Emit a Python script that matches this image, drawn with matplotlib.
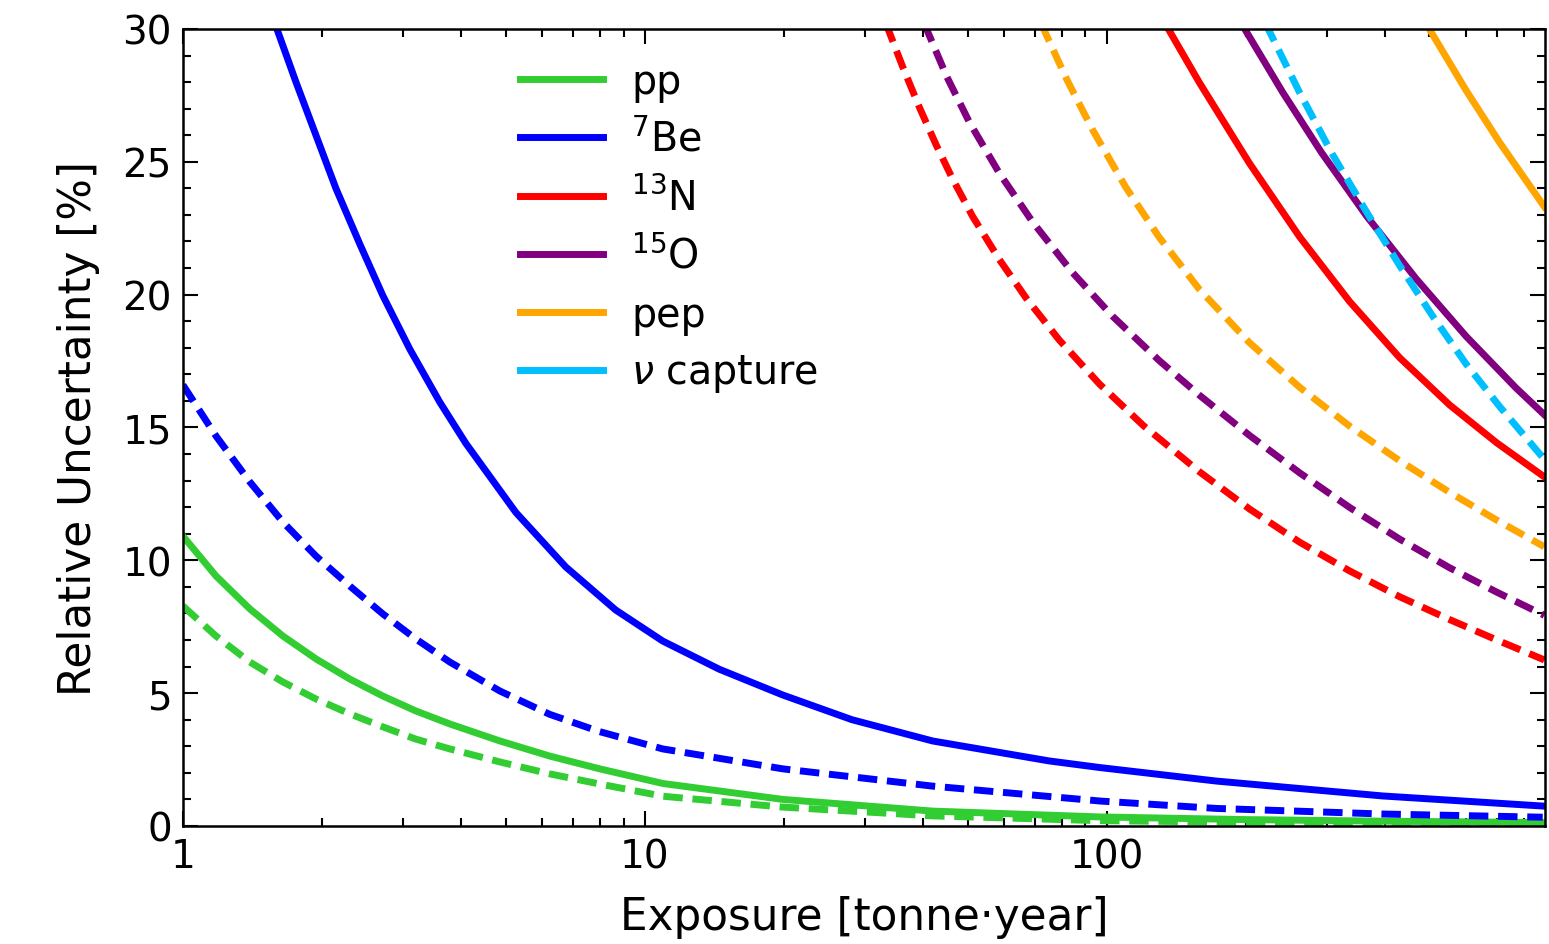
import matplotlib
matplotlib.use("Agg")
import matplotlib.pyplot as plt
from matplotlib.ticker import MultipleLocator, LogLocator, FuncFormatter
from matplotlib.lines import Line2D

# values: exposure [tonne*year] -> relative uncertainty [%]
pp_x = [1, 1.179, 1.396, 1.646, 1.941, 2.298, 2.71, 3.193, 3.784, 4.856, 6.23, 7.99,
        10.94, 19.9, 42, 96.6, 200, 400, 880]
pp_y = [10.91, 9.41, 8.17, 7.15, 6.29, 5.53, 4.89, 4.33, 3.84, 3.2, 2.63, 2.15,
        1.6, 1.0, 0.56, 0.34, 0.24, 0.18, 0.13]
pp_dash_x = [1, 1.179, 1.396, 1.646, 1.941, 2.298, 2.71, 3.193, 3.784, 4.856, 6.23, 7.99,
             10.94, 19.9, 42, 96.6, 200, 400, 880]
pp_dash_y = [8.28, 7.15, 6.17, 5.42, 4.78, 4.22, 3.73, 3.27, 2.9, 2.41, 1.96, 1.58,
             1.12, 0.71, 0.38, 0.2, 0.14, 0.1, 0.08]

be7_x = [1.575, 1.757, 1.941, 2.144, 2.416, 2.71, 3.099, 3.6, 4.099, 5.26, 6.745, 8.65,
         10.94, 14.5, 19.9, 28.1, 42, 75, 96.6, 173, 396, 880]
be7_y = [30.3, 28.0, 26.0, 24.0, 21.9, 19.96, 17.95, 15.95, 14.4, 11.8, 9.75, 8.13,
         6.96, 5.9, 4.93, 4.0, 3.2, 2.45, 2.2, 1.69, 1.13, 0.75]
be7_dash_x = [1, 1.179, 1.396, 1.646, 1.941, 2.298, 2.71, 3.193, 3.784, 4.856, 6.23, 7.99,
              10.94, 19.9, 42, 96.6, 173, 396, 880]
be7_dash_y = [16.6, 14.68, 12.95, 11.44, 10.16, 9.03, 7.98, 7.04, 6.17, 5.08, 4.2, 3.55,
              2.9, 2.15, 1.5, 0.94, 0.66, 0.45, 0.33]

n13_x = [134, 159, 204, 262, 336, 431, 553, 700, 887]
n13_y = [30.2, 27.97, 24.94, 22.17, 19.74, 17.63, 15.85, 14.42, 13.14]
n13_dash_x = [33.3, 36.2, 39.4, 42.8, 46.4, 51.3, 58.6, 67.1, 79.1, 96.6, 120, 159,
              204, 262, 336, 431, 553, 700, 887]
n13_dash_y = [30.2, 28.57, 27.02, 25.62, 24.36, 22.94, 21.32, 19.85, 18.28, 16.63, 15.08,
              13.33, 11.93, 10.68, 9.6, 8.63, 7.77, 7.0, 6.25]

o15_x = [196, 241, 292, 366, 468, 600, 770, 887]
o15_y = [30.2, 27.6, 25.35, 22.95, 20.6, 18.44, 16.49, 15.48]
o15_dash_x = [40.3, 45.1, 50.5, 58.6, 69.2, 84.4, 103, 130, 159, 204, 262, 336, 431,
              553, 700, 887]
o15_dash_y = [30.2, 28.2, 26.48, 24.57, 22.73, 20.83, 19.19, 17.52, 16.21, 14.7, 13.29,
              11.99, 10.8, 9.72, 8.8, 7.93]

pep_x = [492, 600, 709, 887]
pep_y = [30.2, 27.7, 25.74, 23.31]
pep_dash_x = [72.2, 81.9, 93.3, 110, 130, 159, 204, 262, 336, 431, 553, 700, 887]
pep_dash_y = [30.2, 28.12, 26.2, 24.05, 22.16, 20.19, 18.19, 16.51, 15.05, 13.75, 12.56,
              11.51, 10.51]

nucap_dash_x = [221, 262, 308, 366, 431, 508, 600, 709, 887]
nucap_dash_y = [30.2, 27.6, 25.3, 23.1, 21.1, 19.2, 17.4, 15.8, 13.8]

names = ["pp", r"$^{7}$Be", r"$^{13}$N", r"$^{15}$O", "pep", r"$\nu$ capture"]
colors = ["limegreen", "blue", "red", "purple", "orange", "deepskyblue"]

fig = plt.figure(figsize=(15.49, 9.45), dpi=100)
ax = fig.add_axes([0.1181, 0.1249, 0.8793, 0.8434])

lw = 5
dash = (2.8, 1.4)

ax.plot(pp_x, pp_y, color=colors[0], lw=lw)
ax.plot(pp_dash_x, pp_dash_y, color=colors[0], lw=lw, dashes=dash)
ax.plot(be7_x, be7_y, color=colors[1], lw=lw)
ax.plot(be7_dash_x, be7_dash_y, color=colors[1], lw=lw, dashes=dash)
ax.plot(n13_x, n13_y, color=colors[2], lw=lw)
ax.plot(n13_dash_x, n13_dash_y, color=colors[2], lw=lw, dashes=dash)
ax.plot(o15_x, o15_y, color=colors[3], lw=lw)
ax.plot(o15_dash_x, o15_dash_y, color=colors[3], lw=lw, dashes=dash)
ax.plot(pep_x, pep_y, color=colors[4], lw=lw)
ax.plot(pep_dash_x, pep_dash_y, color=colors[4], lw=lw, dashes=dash)
ax.plot(nucap_dash_x, nucap_dash_y, color=colors[5], lw=lw, dashes=dash)

ax.set_xscale("log")
ax.set_xlim(1, 890)
ax.set_ylim(0, 30)

ax.xaxis.set_major_formatter(FuncFormatter(lambda v, p: "%g" % v))
ax.xaxis.set_minor_locator(LogLocator(base=10, subs=range(2, 10)))
ax.xaxis.set_minor_formatter(FuncFormatter(lambda v, p: ""))
ax.yaxis.set_major_locator(MultipleLocator(5))
ax.yaxis.set_minor_locator(MultipleLocator(1))

ax.tick_params(which="both", direction="in", top=True, right=True, width=1.5,
               labelsize=28)
ax.tick_params(which="major", length=11, pad=8)
ax.tick_params(which="minor", length=5.5)
for s in ax.spines.values():
    s.set_linewidth(1.8)

ax.set_xlabel("Exposure [tonne·year]", fontsize=31.5, labelpad=14)
ax.set_ylabel("Relative Uncertainty [%]", fontsize=31.5, labelpad=16)

handles = [Line2D([], [], color=c, lw=lw) for c in colors]
ax.legend(handles, names, loc="upper left", bbox_to_anchor=(0.2328, 0.984),
          frameon=False, fontsize=28.5, borderpad=0, handlelength=2.1,
          handletextpad=0.71, labelspacing=0.45)

fig.savefig("out.png", dpi=100)
